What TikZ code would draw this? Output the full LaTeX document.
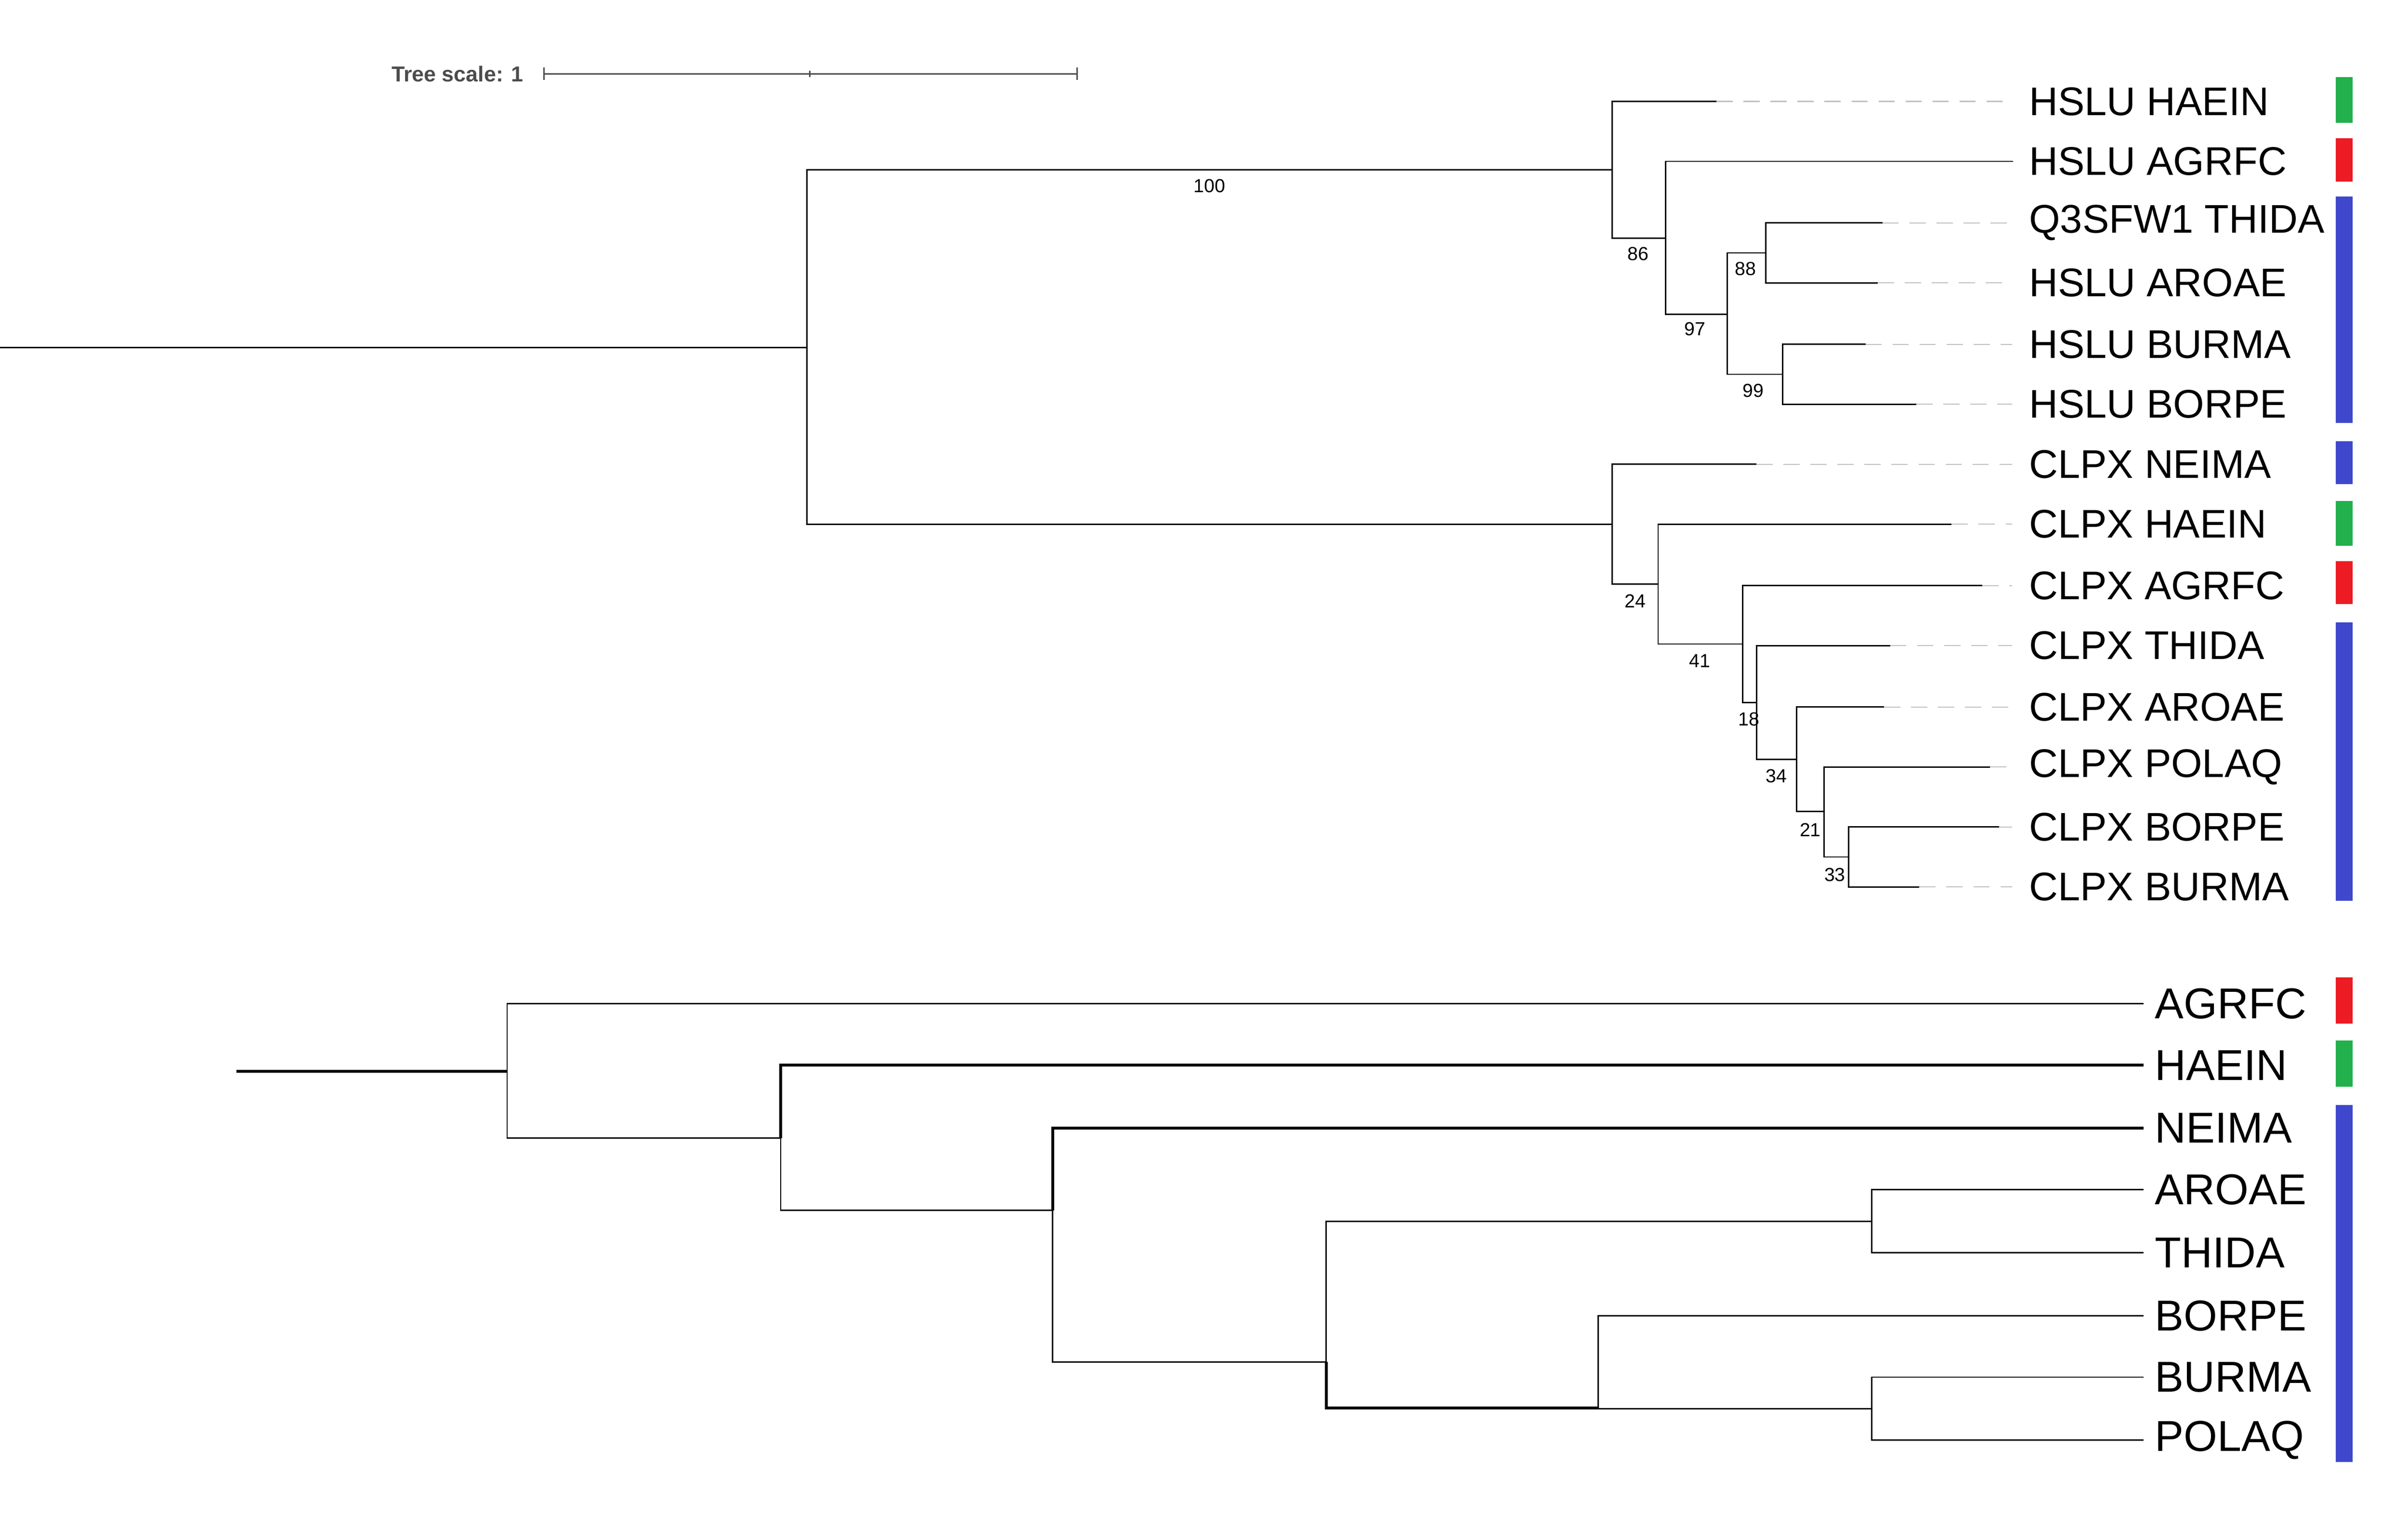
\documentclass[tikz,border=0pt]{standalone}
\usepackage{fontspec}
\setmainfont{Liberation Sans}
\begin{document}
\begin{tikzpicture}[x=0.02cm,y=-0.02cm,line width=0.5pt,
    leaf/.style={anchor=west,inner sep=0pt,font=\fontsize{14.8}{15}\selectfont},
    bigleaf/.style={anchor=west,inner sep=0pt,font=\fontsize{16}{17}\selectfont},
    boot/.style={inner sep=0pt,font=\fontsize{7}{8}\selectfont},
    guide/.style={gray!50,dash pattern=on 6pt off 4pt,line width=0.4pt},
    thick branch/.style={line width=1.1pt}]
    \useasboundingbox (0,0) rectangle (1567,985);
    \definecolor{hgreen}{RGB}{34,177,76}
    \definecolor{hred}{RGB}{237,28,36}
    \definecolor{hblue}{RGB}{63,72,204}

    % scale bar
    \node [anchor=east,inner sep=0pt,text=black!70,font=\bfseries\fontsize{8}{9}\selectfont] (scale) at (341,48) {Tree scale: 1};
    \coordinate (sbA) at (354,48);
    \coordinate (sbB) at (701,48);
    \draw [black!70] (sbA) -- (sbB);
    \draw [black!70] (354,44) -- (354,52) (527,46) -- (527,50) (701,44) -- (701,52);

    % upper tree: internal nodes
    \coordinate (root) at (0,226);
    \coordinate (R) at (525,226);
    \coordinate (H) at (1049,110.5);
    \coordinate (H1) at (1084,155);
    \coordinate (H2) at (1124,204.5);
    \coordinate (H3) at (1149,164.5);
    \coordinate (H4) at (1160,243.5);
    \coordinate (C) at (1049,341);
    \coordinate (C1) at (1079,380);
    \coordinate (C2) at (1134,419);
    \coordinate (C3) at (1143,457);
    \coordinate (C4) at (1169,494);
    \coordinate (C5) at (1187,528);
    \coordinate (C6) at (1203,557.5);

    % tips
    \coordinate (tHhaein) at (1117,66);
    \coordinate (tHagrfc) at (1310,105);
    \coordinate (tHthida) at (1225,145);
    \coordinate (tHaroae) at (1222,184);
    \coordinate (tHburma) at (1214,224);
    \coordinate (tHborpe) at (1247,263);
    \coordinate (tCneima) at (1143,302);
    \coordinate (tChaein) at (1270,341);
    \coordinate (tCagrfc) at (1290,381);
    \coordinate (tCthida) at (1230,420);
    \coordinate (tCaroae) at (1226,460);
    \coordinate (tCpolaq) at (1295,499);
    \coordinate (tCborpe) at (1301,538);
    \coordinate (tCburma) at (1249,577);

    % labels
    \node [leaf] (lHhaein) at (1320,66) {HSLU HAEIN};
    \node [leaf] (lHagrfc) at (1320,105) {HSLU AGRFC};
    \node [leaf] (lHthida) at (1320,145) {Q3SFW1 THIDA};
    \node [leaf] (lHaroae) at (1320,184) {HSLU AROAE};
    \node [leaf] (lHburma) at (1320,224) {HSLU BURMA};
    \node [leaf] (lHborpe) at (1320,263) {HSLU BORPE};
    \node [leaf] (lCneima) at (1320,302) {CLPX NEIMA};
    \node [leaf] (lChaein) at (1320,341) {CLPX HAEIN};
    \node [leaf] (lCagrfc) at (1320,381) {CLPX AGRFC};
    \node [leaf] (lCthida) at (1320,420) {CLPX THIDA};
    \node [leaf] (lCaroae) at (1320,460) {CLPX AROAE};
    \node [leaf] (lCpolaq) at (1320,499) {CLPX POLAQ};
    \node [leaf] (lCborpe) at (1320,538) {CLPX BORPE};
    \node [leaf] (lCburma) at (1320,577) {CLPX BURMA};

    % branches
    \draw (root) -- (R);
    \draw (R) |- (H);
    \draw (R) |- (C);
    \draw (H) |- (tHhaein);
    \draw (H) |- (H1);
    \draw (H1) |- (tHagrfc);
    \draw (H1) |- (H2);
    \draw (H2) |- (H3);
    \draw (H2) |- (H4);
    \draw (H3) |- (tHthida);
    \draw (H3) |- (tHaroae);
    \draw (H4) |- (tHburma);
    \draw (H4) |- (tHborpe);
    \draw (C) |- (tCneima);
    \draw (C) |- (C1);
    \draw (C1) |- (tChaein);
    \draw (C1) |- (C2);
    \draw (C2) |- (tCagrfc);
    \draw (C2) |- (C3);
    \draw (C3) |- (tCthida);
    \draw (C3) |- (C4);
    \draw (C4) |- (tCaroae);
    \draw (C4) |- (C5);
    \draw (C5) |- (tCpolaq);
    \draw (C5) |- (C6);
    \draw (C6) |- (tCborpe);
    \draw (C6) |- (tCburma);

    % guides to labels
    \foreach \t in {Hhaein,Hthida,Haroae,Hburma,Hborpe,Cneima,Chaein,Cagrfc,Cthida,Caroae,Cpolaq,Cborpe,Cburma}
        \draw [guide] (t\t) -- ([xshift=-6pt]l\t.west);

    % support values
    \node [boot] (b100) at (787,121) {100};
    \node [boot] (b86) at (1066,165) {86};
    \node [boot] (b97) at (1103,214) {97};
    \node [boot] (b88) at (1136,175) {88};
    \node [boot] (b99) at (1141,254) {99};
    \node [boot] (b24) at (1064,391) {24};
    \node [boot] (b41) at (1106,430) {41};
    \node [boot] (b18) at (1138,468) {18};
    \node [boot] (b34) at (1156,505) {34};
    \node [boot] (b21) at (1178,540) {21};
    \node [boot] (b33) at (1194,569) {33};

    % colour strip, upper tree
    \fill [hgreen] (1520,50) rectangle (1531,80);
    \fill [hred] (1520,90) rectangle (1531,118);
    \fill [hblue] (1520,128) rectangle (1531,275);
    \fill [hblue] (1520,287) rectangle (1531,315);
    \fill [hgreen] (1520,326) rectangle (1531,355);
    \fill [hred] (1520,365) rectangle (1531,393);
    \fill [hblue] (1520,405) rectangle (1531,586);

    % lower tree
    \coordinate (sroot) at (154,697);
    \coordinate (S) at (330,697);
    \coordinate (S1) at (508,740.5);
    \coordinate (S2) at (685,787.5);
    \coordinate (S3) at (863,886);
    \coordinate (S4) at (1218,794.5);
    \coordinate (S5) at (1040,916);
    \coordinate (S6) at (1218,916.5);

    \node [bigleaf] (sAgrfc) at (1402,653) {AGRFC};
    \node [bigleaf] (sHaein) at (1402,693) {HAEIN};
    \node [bigleaf] (sNeima) at (1402,734) {NEIMA};
    \node [bigleaf] (sAroae) at (1402,774) {AROAE};
    \node [bigleaf] (sThida) at (1402,815) {THIDA};
    \node [bigleaf] (sBorpe) at (1402,856) {BORPE};
    \node [bigleaf] (sBurma) at (1402,896) {BURMA};
    \node [bigleaf] (sPolaq) at (1402,937) {POLAQ};

    \draw [thick branch] (sroot) -- (S);
    \draw (S) |- ([xshift=-4pt]sAgrfc.west);
    \draw (S) |- (S1);
    \draw [thick branch] (S1) |- ([xshift=-4pt]sHaein.west);
    \draw (S1) |- (S2);
    \draw [thick branch] (S2) |- ([xshift=-4pt]sNeima.west);
    \draw (S2) |- (S3);
    \draw (S3) |- (S4);
    \draw [thick branch] (S3) |- (S5);
    \draw (S4) |- ([xshift=-4pt]sAroae.west);
    \draw (S4) |- ([xshift=-4pt]sThida.west);
    \draw (S5) |- ([xshift=-4pt]sBorpe.west);
    \draw (S5) |- (S6);
    \draw (S6) |- ([xshift=-4pt]sBurma.west);
    \draw (S6) |- ([xshift=-4pt]sPolaq.west);

    \fill [hred] (1520,636) rectangle (1531,666);
    \fill [hgreen] (1520,677) rectangle (1531,707);
    \fill [hblue] (1520,719) rectangle (1531,951);
\end{tikzpicture}
\end{document}
